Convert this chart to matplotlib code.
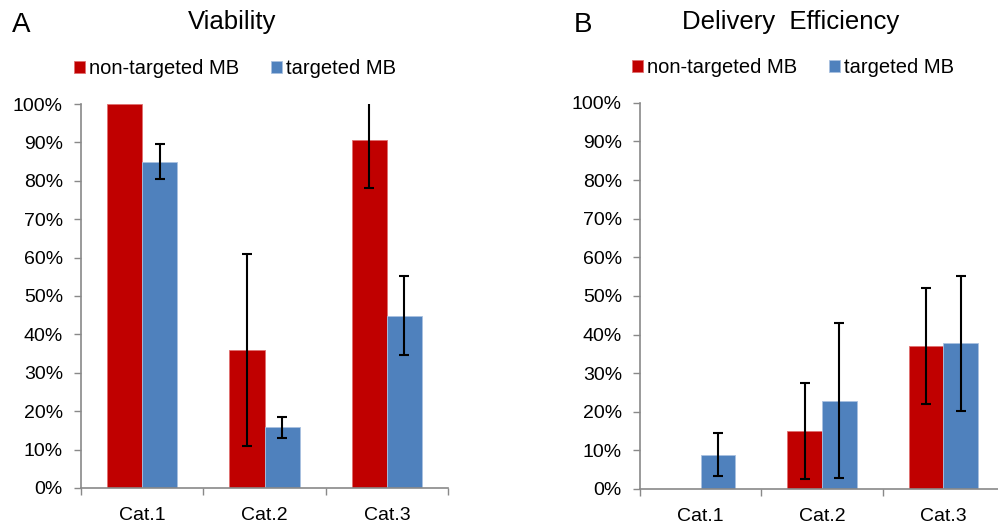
import matplotlib.pyplot as plt
import numpy as np
from matplotlib.ticker import PercentFormatter, FixedLocator

plt.rcParams['font.family'] = ['Liberation Sans', 'DejaVu Sans']

CATEGORIES = ['Cat.1', 'Cat.2', 'Cat.3']
SERIES = ['non-targeted MB', 'targeted MB']

# viability (fractions)
VIAB_NON = [1.00, 0.36, 0.905]
VIAB_NON_ERR = [np.nan, 0.25, 0.123]
VIAB_TGT = [0.85, 0.158, 0.449]
VIAB_TGT_ERR = [0.045, 0.027, 0.103]

# delivery efficiency (fractions)
DELIV_NON = [0.0, 0.15, 0.37]
DELIV_NON_ERR = [np.nan, 0.125, 0.15]
DELIV_TGT = [0.089, 0.229, 0.377]
DELIV_TGT_ERR = [0.056, 0.20, 0.175]

RED = '#C00000'
BLUE = '#4F81BD'
GRAY = '#898989'
W = 0.287


def draw(ax, non, non_err, tgt, tgt_err):
    x = np.arange(len(CATEGORIES))
    ax.bar(x - W / 2, non, W, color=RED, edgecolor='#E07070', linewidth=0.6,
           label=SERIES[0], zorder=2)
    ax.bar(x + W / 2, tgt, W, color=BLUE, edgecolor='#A9C1E0', linewidth=0.6,
           label=SERIES[1], zorder=2)
    for off, vals, errs in [(-W / 2, non, non_err), (W / 2, tgt, tgt_err)]:
        for xi, v, e in zip(x + off, vals, errs):
            if np.isnan(e):
                continue
            ax.errorbar(xi, v, yerr=e, fmt='none', ecolor='black',
                        elinewidth=1.5, capsize=3.5, capthick=1.5, zorder=3)

    ax.set_xlim(-0.5, len(CATEGORIES) - 0.5)
    ax.set_ylim(0, 1)
    ax.set_yticks(np.arange(0, 1.01, 0.1))
    ax.yaxis.set_major_formatter(PercentFormatter(1.0, decimals=0))
    ax.set_xticks(x)
    ax.set_xticklabels(CATEGORIES)
    ax.xaxis.set_minor_locator(FixedLocator(np.arange(-0.5, len(CATEGORIES), 1.0)))
    ax.tick_params(axis='x', which='major', length=0, pad=14, labelsize=14)
    ax.tick_params(axis='x', which='minor', length=5, color=GRAY, width=1)
    ax.tick_params(axis='y', length=5, color=GRAY, width=1, pad=8, labelsize=14)
    for s in ['top', 'right']:
        ax.spines[s].set_visible(False)
    for s in ['left', 'bottom']:
        ax.spines[s].set_color(GRAY)
        ax.spines[s].set_linewidth(1.2)
    ax.legend(ncol=2, loc='center', bbox_to_anchor=(0.42, 1.092),
              frameon=False, fontsize=14.5, handlelength=0.55, handleheight=0.55,
              handletextpad=0.2, columnspacing=1.6, borderaxespad=0)


fig = plt.figure(figsize=(9.98, 5.25), dpi=100)
ax1 = fig.add_axes([0.0812, 0.0705, 0.3677, 0.7314])
ax2 = fig.add_axes([0.6413, 0.0686, 0.3647, 0.7355])
draw(ax1, VIAB_NON, VIAB_NON_ERR, VIAB_TGT, VIAB_TGT_ERR)
draw(ax2, DELIV_NON, DELIV_NON_ERR, DELIV_TGT, DELIV_TGT_ERR)

fig.text(0.012, 0.952, 'A', fontsize=20, va='center')
fig.text(0.233, 0.958, 'Viability', fontsize=18.5, ha='center', va='center')
fig.text(0.575, 0.952, 'B', fontsize=20, va='center')
fig.text(0.7925, 0.958, 'Delivery  Efficiency', fontsize=18.5, ha='center', va='center')

fig.savefig('out.png', dpi=100)
